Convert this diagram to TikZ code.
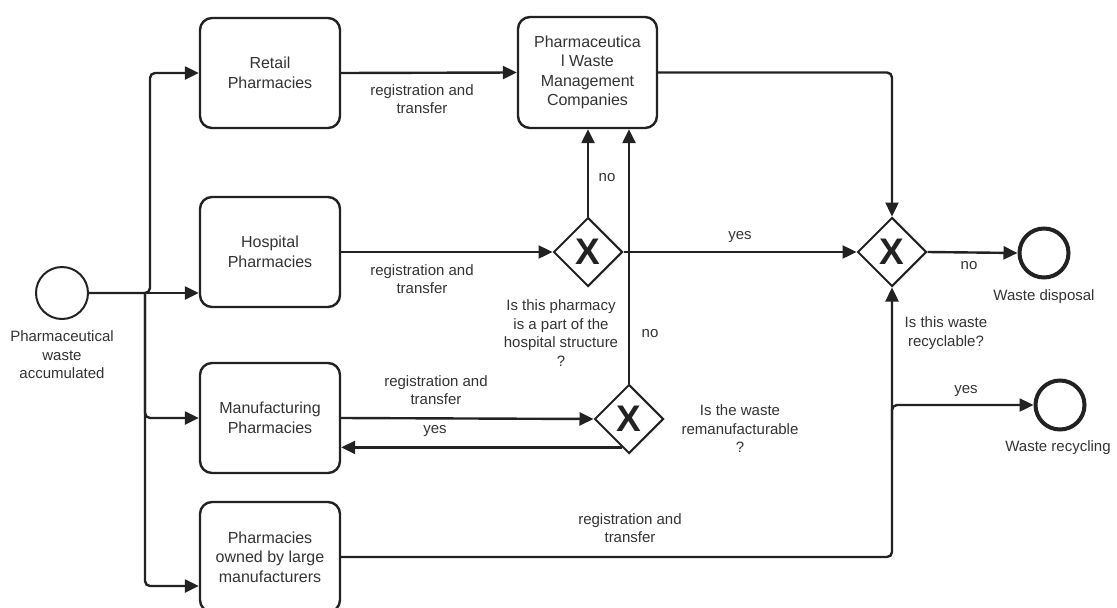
\documentclass[tikz,border=0pt]{standalone}
\usepackage{fontspec}
\setmainfont{Liberation Sans}
\usetikzlibrary{arrows.meta,shapes.geometric,calc}
\definecolor{ink}{HTML}{222222}
\definecolor{txt}{HTML}{333333}

\begin{document}
\begin{tikzpicture}[x=1pt,y=-1pt,
  task/.style={draw=ink, line width=2.4pt, rounded corners=12pt,
    minimum width=140pt, minimum height=110pt, align=center,
    font=\fontsize{16}{19.5}\selectfont, text=txt},
  gate/.style={draw=ink, line width=2pt, diamond, minimum width=69pt,
    minimum height=69pt, inner sep=0pt, text=ink,
    font=\fontsize{37}{37}\bfseries\selectfont},
  startev/.style={draw=ink, line width=2pt, circle, minimum size=52pt, inner sep=0pt},
  endev/.style={draw=ink, line width=4pt, circle, minimum size=49pt, inner sep=0pt},
  lbl/.style={align=center, text=txt, inner sep=0pt,
    font=\fontsize{15}{18.5}\selectfont},
  flow/.style={draw=ink, line width=2.4pt, rounded corners=5pt,
    -{Triangle[length=14pt,width=13pt]}},
]
\useasboundingbox (0,0) rectangle (1117,608);

% events
\node[startev] (s) at (62,293) {};
\node[lbl] (slbl) at (62,355) {Pharmaceutical\\waste\\accumulated};
\node[endev] (disp) at (1044,253) {};
\node[lbl] (displbl) at (1044,297) {Waste disposal};
\node[endev] (rec) at (1060,405) {};
\node[lbl] (reclbl) at (1058,448) {Waste recycling};

% pharmacy tasks
\node[task] (retail) at (270,73) {Retail\\Pharmacies};
\node[task] (hosp) at (270,252) {Hospital\\Pharmacies};
\node[task] (manu) at (270,418) {Manufacturing\\Pharmacies};
\node[task] (own) at (270,557) {Pharmacies\\owned by large\\manufacturers};
\node[task, minimum width=139pt, minimum height=111pt] (pwmc) at (587.5,72.5)
  {Pharmaceutica\\l Waste\\Management\\Companies};

% gateways
\node[gate] (d1) at (588,252) {X};
\node[gate] (d2) at (629,419) {X};
\node[gate] (d3) at (892,252) {X};

% branching from the start event
\coordinate (j1) at (150,293);
\coordinate (j2) at (145,293);
\path (own.west) ++(0,29) coordinate (ownin);
\draw[flow] (s.east) -- (s.east -| hosp.west);
\draw[flow] (s.east) -- (j1) |- (retail.west);
\draw[flow] (j2) |- (manu.west);
\draw[flow] (j2) |- (ownin);

% transfers
\draw[flow] (retail.east) -- (pwmc.west);
\node[lbl] (l1) at (422,99) {registration and\\transfer};
\draw[flow] (hosp.east) -- (d1.west);
\node[lbl] (l2) at (422,279) {registration and\\transfer};
\draw[flow] (manu.east) -- (d2.west);
\node[lbl] (l3) at (436,390) {registration and\\transfer};
\coordinate (back) at ($(d2.west)!0.8!(d2.south)$);
\draw[flow] (back) -- (back -| manu.east);
\node[lbl] (l4) at (435,431) {yes};

% gateway outcomes
\draw[flow] (d1.north) -- (d1.north |- pwmc.south);
\node[lbl] (l5) at (607,178) {no};
\node[lbl] (q1) at (561,333) {Is this pharmacy\\is a part of the\\hospital structure\\?};
\draw[flow] (d2.north) -- (d2.north |- pwmc.south);
\node[lbl] (l6) at (650,334) {no};
\node[lbl] (q2) at (740,429) {Is the waste\\remanufacturable\\?};
\draw[flow] (d1.east) -- (d3.west);
\node[lbl] (l7) at (740,237) {yes};
\draw[flow] (pwmc.east) -| (d3.north);
\draw[flow] (own.east) -| (d3.south);
\node[lbl] (l8) at (630,528) {registration and\\transfer};
\node[lbl] (q3) at (946,333) {Is this waste\\recyclable?};
\draw[flow] (d3.east) -- (disp.west);
\node[lbl] (l9) at (969,266) {no};
\coordinate (rb) at (892,440);
\draw[flow] (rb) |- (rec.west);
\node[lbl] (l10) at (966,391) {yes};
\end{tikzpicture}
\end{document}
